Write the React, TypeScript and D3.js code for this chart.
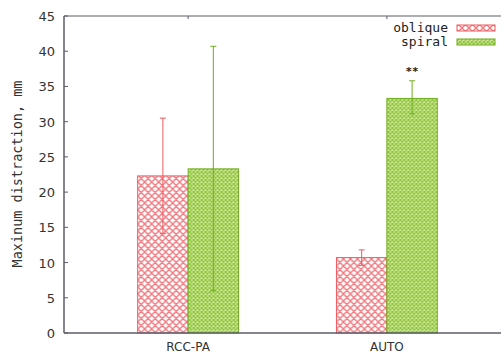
import React, { useRef, useEffect } from 'react';
import * as d3 from 'd3';

const categories = ['RCC-PA', 'AUTO'];
const seriesNames = ['oblique', 'spiral'];
const obliqueMean = [22.3, 10.7];
const obliqueLow = [14.1, 9.6];
const obliqueHigh = [30.5, 11.8];
const spiralMean = [23.3, 33.3];
const spiralLow = [6.0, 31.1];
const spiralHigh = [40.7, 35.8];
const yTicks = [0, 5, 10, 15, 20, 25, 30, 35, 40, 45];
const marks = ['', '**'];

const App = () => {
  const svgRef = useRef<SVGSVGElement>(null);

  useEffect(() => {
    const W = 501;
    const H = 354;
    const svg = d3.select(svgRef.current).attr('width', W).attr('height', H);
    svg.selectAll('*').remove();

    const defs = svg.append('defs');
    const red = defs.append('pattern').attr('id', 'hatchRed')
      .attr('patternUnits', 'userSpaceOnUse').attr('width', 7).attr('height', 7);
    red.append('rect').attr('width', 7).attr('height', 7).attr('fill', '#fff');
    red.append('path').attr('d', 'M0,0 L7,7 M7,0 L0,7 M-1,6 L1,8 M6,-1 L8,1')
      .attr('stroke', '#f07a80').attr('stroke-width', 1.4);

    const green = defs.append('pattern').attr('id', 'hatchGreen')
      .attr('patternUnits', 'userSpaceOnUse').attr('width', 4).attr('height', 4);
    green.append('rect').attr('width', 4).attr('height', 4).attr('fill', '#d6ec9c');
    green.append('path').attr('d', 'M0,0 L4,4 M4,0 L0,4')
      .attr('stroke', '#8cc43c').attr('stroke-width', 1.2);

    // two groups centred at 188 and 387, each 101px wide
    const x0 = d3.scaleBand().domain(categories).range([88, 487]).paddingInner(0.4925).paddingOuter(0.25);
    const x1 = d3.scaleBand().domain(seriesNames).range([0, x0.bandwidth()]);
    const y = d3.scaleLinear().domain([0, 45]).range([333, 16]);

    const data = categories.map((c, i) => ({
      cat: c,
      vals: [
        { s: 'oblique', v: obliqueMean[i], lo: obliqueLow[i], hi: obliqueHigh[i] },
        { s: 'spiral', v: spiralMean[i], lo: spiralLow[i], hi: spiralHigh[i] },
      ],
      mark: marks[i],
    }));

    const fills: Record<string, string> = { oblique: 'url(#hatchRed)', spiral: 'url(#hatchGreen)' };
    const strokes: Record<string, string> = { oblique: '#ee5a60', spiral: '#6fae1e' };

    const g = svg.selectAll('.grp').data(data).join('g')
      .attr('transform', (d) => `translate(${x0(d.cat)},0)`);

    g.selectAll('rect').data((d) => d.vals).join('rect')
      .attr('x', (d) => x1(d.s)!)
      .attr('y', (d) => y(d.v))
      .attr('width', x1.bandwidth())
      .attr('height', (d) => y(0) - y(d.v))
      .attr('fill', (d) => fills[d.s])
      .attr('stroke', (d) => strokes[d.s])
      .attr('stroke-width', 1);

    const eb = g.selectAll('.eb').data((d) => d.vals).join('g').attr('class', 'eb')
      .attr('stroke', (d) => strokes[d.s]).attr('stroke-width', 1);
    const cx = (d: any) => x1(d.s)! + x1.bandwidth() / 2;
    eb.append('line').attr('x1', cx).attr('x2', cx)
      .attr('y1', (d) => y(d.lo)).attr('y2', (d) => y(d.hi));
    eb.append('line').attr('x1', (d) => cx(d) - 3).attr('x2', (d) => cx(d) + 3)
      .attr('y1', (d) => y(d.lo)).attr('y2', (d) => y(d.lo));
    eb.append('line').attr('x1', (d) => cx(d) - 3).attr('x2', (d) => cx(d) + 3)
      .attr('y1', (d) => y(d.hi)).attr('y2', (d) => y(d.hi));

    g.append('text')
      .attr('x', x0.bandwidth() * 0.75)
      .attr('y', (d) => y(d.vals[1].hi) - 6)
      .attr('text-anchor', 'middle')
      .attr('font-family', 'DejaVu Sans Mono')
      .attr('font-size', 11)
      .attr('font-weight', 'bold')
      .attr('fill', '#222')
      .text((d) => d.mark);

    // frame
    const axisColor = '#5a5e6a';
    svg.append('line').attr('x1', 64).attr('x2', 64).attr('y1', y(45)).attr('y2', y(0))
      .attr('stroke', axisColor).attr('stroke-width', 1.5);
    svg.append('line').attr('x1', 64).attr('x2', W).attr('y1', y(0)).attr('y2', y(0))
      .attr('stroke', axisColor).attr('stroke-width', 1.5);
    svg.append('line').attr('x1', 64).attr('x2', W).attr('y1', y(45)).attr('y2', y(45))
      .attr('stroke', axisColor).attr('stroke-width', 1.2);

    // y ticks
    const yt = svg.append('g');
    yt.selectAll('line').data(yTicks).join('line')
      .attr('x1', 64).attr('x2', 68).attr('y1', (d) => y(d)).attr('y2', (d) => y(d))
      .attr('stroke', axisColor);
    yt.selectAll('text').data(yTicks).join('text')
      .attr('x', 55).attr('y', (d) => y(d) + 5)
      .attr('text-anchor', 'end')
      .attr('font-family', 'DejaVu Sans')
      .attr('font-size', 13)
      .attr('fill', '#333')
      .text((d) => d);

    // x ticks top
    svg.selectAll('.xt').data(categories).join('line').attr('class', 'xt')
      .attr('x1', (d) => x0(d)! + x0.bandwidth() / 2).attr('x2', (d) => x0(d)! + x0.bandwidth() / 2)
      .attr('y1', y(45)).attr('y2', y(45) + 3).attr('stroke', axisColor);

    svg.selectAll('.xl').data(categories).join('text').attr('class', 'xl')
      .attr('x', (d) => x0(d)! + x0.bandwidth() / 2)
      .attr('y', 351)
      .attr('text-anchor', 'middle')
      .attr('font-family', 'DejaVu Sans')
      .attr('font-size', 12)
      .attr('fill', '#333')
      .text((d) => d);

    svg.append('text')
      .attr('transform', `translate(22,${174}) rotate(-90)`)
      .attr('text-anchor', 'middle')
      .attr('font-family', 'DejaVu Sans Mono')
      .attr('font-size', 13.5)
      .attr('fill', '#333')
      .text('Maxinum distraction, mm');

    // legend
    const leg = svg.append('g').selectAll('g').data(seriesNames).join('g')
      .attr('transform', (d, i) => `translate(0,${28 + i * 14})`);
    leg.append('text').attr('x', 448).attr('y', 4)
      .attr('text-anchor', 'end')
      .attr('font-family', 'DejaVu Sans Mono')
      .attr('font-size', 13)
      .attr('fill', '#222')
      .text((d) => d);
    leg.append('rect').attr('x', 457).attr('y', -3).attr('width', 38).attr('height', 6)
      .attr('fill', (d) => fills[d]).attr('stroke', (d) => strokes[d]);
  }, []);

  return (
    <div style={{ position: 'absolute', left: 0, top: 0 }}>
      <svg ref={svgRef}></svg>
    </div>
  );
};

export default App;
